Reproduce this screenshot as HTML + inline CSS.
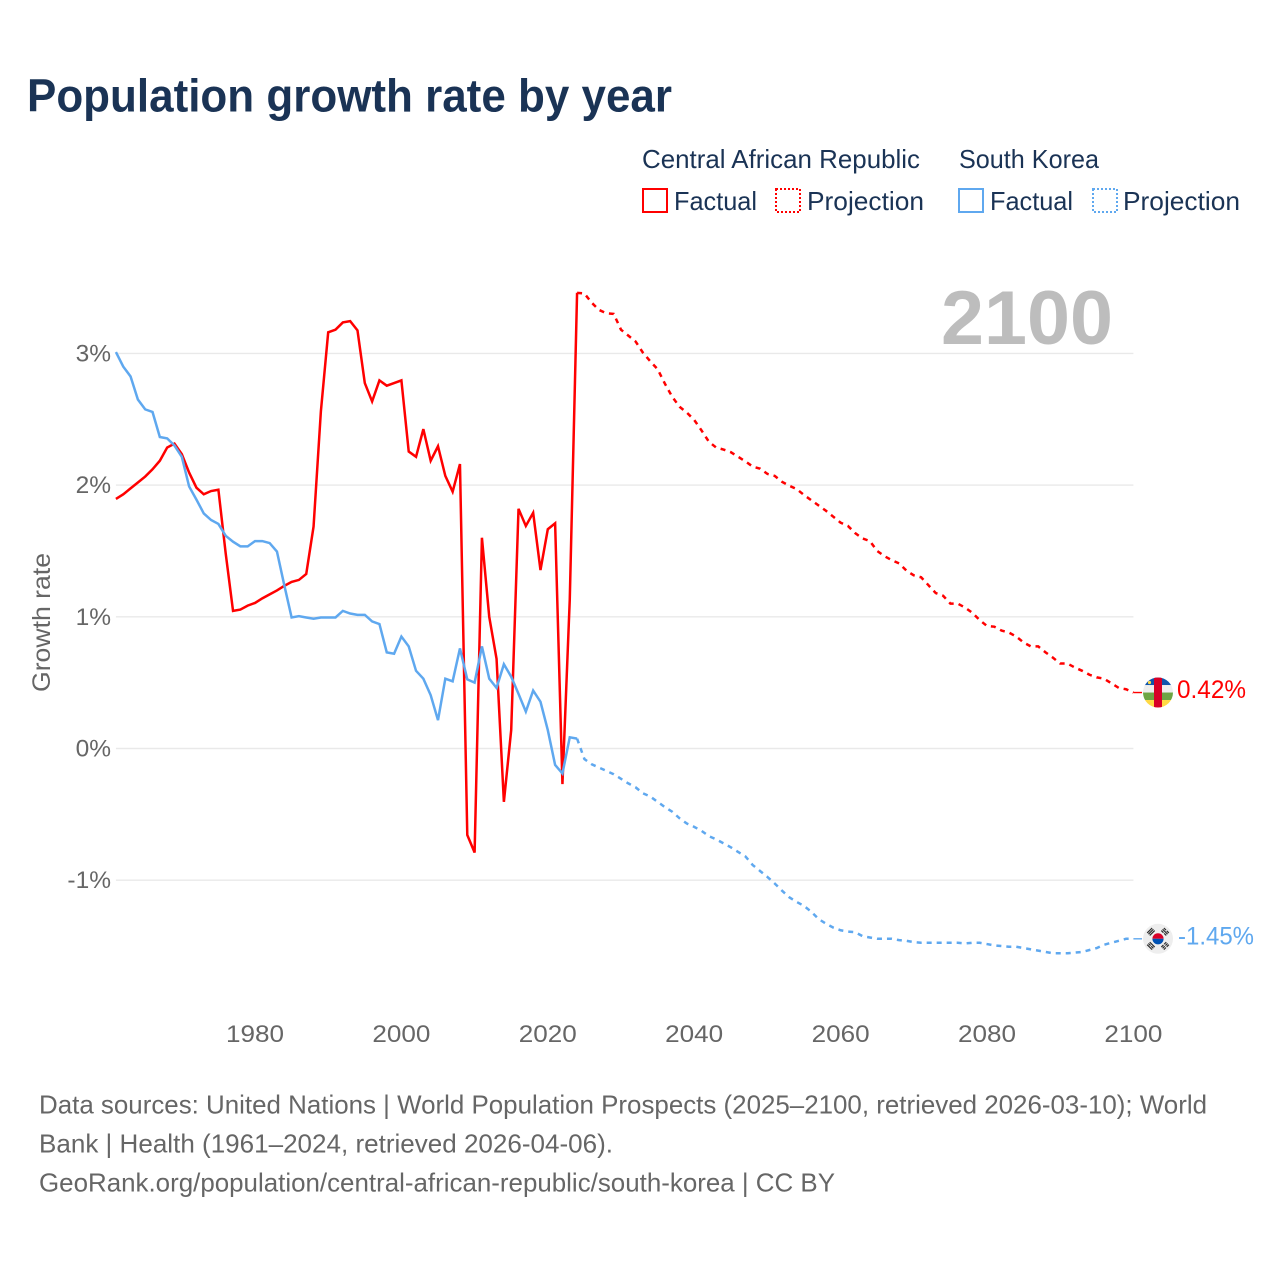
<!DOCTYPE html>
<html lang="en">
<head>
<meta charset="utf-8">
<title>Population growth rate by year</title>
<style>
html,body{margin:0;padding:0;background:#fff;}
svg{display:block;}
text{font-family:"Liberation Sans",sans-serif;}
</style>
</head>
<body>
<svg id="chart" width="1280" height="1280" viewBox="0 0 1280 1280" xmlns="http://www.w3.org/2000/svg">
  <rect x="0" y="0" width="1280" height="1280" fill="#fff"/>
  <text x="27" y="111.5" font-size="46" font-weight="700" fill="#1a3355" textLength="645" lengthAdjust="spacingAndGlyphs">Population growth rate by year</text>

  <g font-size="26" fill="#1a3355">
    <text x="642" y="168" textLength="278" lengthAdjust="spacingAndGlyphs">Central African Republic</text>
    <text x="959" y="168" textLength="140" lengthAdjust="spacingAndGlyphs">South Korea</text>
    <rect x="643" y="189" width="24" height="23" fill="none" stroke="#ff0000" stroke-width="2"/>
    <text x="674" y="210" textLength="83" lengthAdjust="spacingAndGlyphs">Factual</text>
    <rect x="776" y="189" width="24" height="23" fill="none" stroke="#ff0000" stroke-width="2" stroke-dasharray="2 2"/>
    <text x="807" y="210" textLength="117" lengthAdjust="spacingAndGlyphs">Projection</text>
    <rect x="959" y="189" width="24" height="23" fill="none" stroke="#5fa8ef" stroke-width="2"/>
    <text x="990" y="210" textLength="83" lengthAdjust="spacingAndGlyphs">Factual</text>
    <rect x="1093" y="189" width="24" height="23" fill="none" stroke="#5fa8ef" stroke-width="2" stroke-dasharray="2 2"/>
    <text x="1123" y="210" textLength="117" lengthAdjust="spacingAndGlyphs">Projection</text>
  </g>

  <text x="941" y="344" font-size="76" font-weight="700" fill="#bdbdbd" textLength="172" lengthAdjust="spacingAndGlyphs">2100</text>

  <g id="grid"></g>
  <g id="yticks" font-size="24.5" fill="#666"></g>
  <g id="xticks" font-size="24.5" fill="#666"></g>
  <text transform="translate(50,692) rotate(-90)" font-size="25" fill="#666" textLength="139" lengthAdjust="spacingAndGlyphs">Growth rate</text>

  <g id="series"></g>

  <g id="flag-car">
    <clipPath id="clip-car"><circle cx="0" cy="0" r="15"/></clipPath>
    <g clip-path="url(#clip-car)">
      <rect x="-15" y="-15" width="30" height="8" fill="#0f55ad"/>
      <rect x="-15" y="-7.5" width="30" height="7.5" fill="#eeeeee"/>
      <rect x="-15" y="0" width="30" height="7.5" fill="#6da544"/>
      <rect x="-15" y="7.5" width="30" height="8" fill="#ffda44"/>
      <rect x="-4" y="-15" width="8" height="30" fill="#d80027"/>
      <circle cx="-8.5" cy="-10" r="1.6" fill="#ffda44"/>
    </g>
  </g>
  <g id="flag-kr">
    <circle cx="0" cy="0" r="15" fill="#eeeeee"/>
    <path d="M-5.6 0a5.6 5.6 0 0 1 11.2 0z" fill="#d80027"/>
    <path d="M-5.6 0a5.6 5.6 0 0 0 11.2 0z" fill="#0052b4"/>
    <g fill="#2b2b2b">
      <g transform="rotate(-45) translate(0,-10)"><rect x="-3.5" y="-2.4" width="7" height="1.2"/><rect x="-3.5" y="-0.6" width="7" height="1.2"/><rect x="-3.5" y="1.2" width="7" height="1.2"/></g>
      <g transform="rotate(45) translate(0,-10)"><rect x="-3.5" y="-2.4" width="3" height="1.2"/><rect x="0.5" y="-2.4" width="3" height="1.2"/><rect x="-3.5" y="-0.6" width="7" height="1.2"/><rect x="-3.5" y="1.2" width="3" height="1.2"/><rect x="0.5" y="1.2" width="3" height="1.2"/></g>
      <g transform="rotate(135) translate(0,-10)"><rect x="-3.5" y="-2.4" width="3" height="1.2"/><rect x="0.5" y="-2.4" width="3" height="1.2"/><rect x="-3.5" y="-0.6" width="3" height="1.2"/><rect x="0.5" y="-0.6" width="3" height="1.2"/><rect x="-3.5" y="1.2" width="3" height="1.2"/><rect x="0.5" y="1.2" width="3" height="1.2"/></g>
      <g transform="rotate(225) translate(0,-10)"><rect x="-3.5" y="-2.4" width="7" height="1.2"/><rect x="-3.5" y="-0.6" width="3" height="1.2"/><rect x="0.5" y="-0.6" width="3" height="1.2"/><rect x="-3.5" y="1.2" width="7" height="1.2"/></g>
    </g>
  </g>
  <text id="label-car" x="1177" font-size="25" fill="#ff0000" textLength="69" lengthAdjust="spacingAndGlyphs"></text>
  <text id="label-kr" x="1178" font-size="25" fill="#5fa8ef" textLength="76" lengthAdjust="spacingAndGlyphs"></text>

  <g font-size="26" fill="#666">
    <text x="39" y="1113.5" textLength="1168" lengthAdjust="spacingAndGlyphs">Data sources: United Nations | World Population Prospects (2025–2100, retrieved 2026-03-10); World</text>
    <text x="39" y="1152.5" textLength="574" lengthAdjust="spacingAndGlyphs">Bank | Health (1961–2024, retrieved 2026-04-06).</text>
    <text x="39" y="1191.5" textLength="796" lengthAdjust="spacingAndGlyphs">GeoRank.org/population/central-african-republic/south-korea | CC BY</text>
  </g>
</svg>
<script>
var yTickValues = [3, 2, 1, 0, -1];
var yTickLabels = ["3%", "2%", "1%", "0%", "-1%"];
var xTickYears = [1980, 2000, 2020, 2040, 2060, 2080, 2100];
var xTickLabels = ["1980", "2000", "2020", "2040", "2060", "2080", "2100"];
var factualStartYear = 1961;
var projectionStartYear = 2024;
var endValueLabels = ["0.42%", "-1.45%"];

var carFactual = [
  1.895,1.93,1.975,2.02,2.065,2.12,2.185,2.285,2.315,2.235,
  2.095,1.98,1.93,1.955,1.965,1.48,1.045,1.055,1.085,1.105,
  1.14,1.17,1.2,1.235,1.265,1.28,1.325,1.685,2.56,3.16,
  3.18,3.235,3.245,3.175,2.775,2.635,2.795,2.755,2.775,2.795,
  2.255,2.215,2.425,2.185,2.295,2.07,1.95,2.16,-0.657,-0.79,
  1.6,1.0,0.68,-0.405,0.14,1.82,1.69,1.79,1.355,1.665,
  1.71,-0.27,1.13,3.46
];
var carProjection = [
  3.46,3.455,3.385,3.33,3.305,3.3,3.18,3.135,3.09,3.005,
  2.94,2.88,2.77,2.67,2.595,2.55,2.495,2.415,2.33,2.285,
  2.27,2.25,2.215,2.18,2.14,2.125,2.085,2.07,2.025,1.995,
  1.97,1.925,1.885,1.845,1.805,1.76,1.715,1.69,1.635,1.595,
  1.575,1.5,1.46,1.43,1.405,1.35,1.315,1.3,1.24,1.18,
  1.16,1.1,1.1,1.07,1.03,0.975,0.93,0.925,0.895,0.88,
  0.85,0.805,0.775,0.775,0.73,0.69,0.645,0.645,0.615,0.59,
  0.56,0.54,0.53,0.495,0.46,0.45,0.425
];
var koreaFactual = [
  3.01,2.9,2.825,2.65,2.575,2.555,2.365,2.355,2.3,2.215,
  1.99,1.89,1.785,1.735,1.705,1.615,1.57,1.535,1.535,1.575,
  1.575,1.56,1.495,1.24,0.995,1.005,0.995,0.985,0.995,0.995,
  0.995,1.045,1.025,1.015,1.015,0.965,0.945,0.73,0.72,0.85,
  0.775,0.59,0.53,0.405,0.215,0.53,0.51,0.76,0.525,0.5,
  0.775,0.53,0.46,0.64,0.545,0.415,0.28,0.44,0.355,0.14,
  -0.125,-0.19,0.085,0.075
];
var koreaProjection = [
  0.075,-0.08,-0.12,-0.145,-0.17,-0.195,-0.23,-0.265,-0.295,-0.34,
  -0.365,-0.405,-0.445,-0.48,-0.53,-0.57,-0.595,-0.625,-0.665,-0.69,
  -0.72,-0.75,-0.785,-0.82,-0.885,-0.93,-0.975,-1.025,-1.08,-1.13,
  -1.165,-1.195,-1.24,-1.295,-1.33,-1.36,-1.38,-1.39,-1.395,-1.425,
  -1.435,-1.445,-1.445,-1.445,-1.455,-1.46,-1.47,-1.475,-1.475,-1.475,
  -1.475,-1.475,-1.475,-1.48,-1.475,-1.475,-1.485,-1.495,-1.5,-1.505,
  -1.505,-1.515,-1.525,-1.535,-1.545,-1.555,-1.555,-1.555,-1.55,-1.545,
  -1.53,-1.515,-1.49,-1.475,-1.46,-1.445,-1.445
];

var NS = "http://www.w3.org/2000/svg";
var RED = "#ff0000";
var BLUE = "#5fa8ef";
function xScale(year) { return 255 + (year - 1980) * 7.32; }
function yScale(value) { return 748.5 - value * 131.7; }
function pathFrom(values, startYear) {
  var d = "";
  for (var i = 0; i < values.length; i++) {
    d += (i ? "L" : "M") + xScale(startYear + i).toFixed(2) + " " + yScale(values[i]).toFixed(2);
  }
  return d;
}
function addSeries(values, startYear, color, dashed, name) {
  var p = document.createElementNS(NS, "path");
  p.setAttribute("d", pathFrom(values, startYear));
  p.setAttribute("fill", "none");
  p.setAttribute("stroke", color);
  p.setAttribute("stroke-width", "2.5");
  p.setAttribute("stroke-linejoin", "miter");
  p.setAttribute("stroke-miterlimit", "4");
  if (dashed) p.setAttribute("stroke-dasharray", "5 5");
  
  
  document.getElementById("series").appendChild(p);
}

var gridGroup = document.getElementById("grid");
var yTickGroup = document.getElementById("yticks");
yTickValues.forEach(function (v, i) {
  var l = document.createElementNS(NS, "line");
  l.setAttribute("x1", xScale(factualStartYear));
  l.setAttribute("x2", xScale(2100));
  l.setAttribute("y1", yScale(v));
  l.setAttribute("y2", yScale(v));
  l.setAttribute("stroke", "#e9e9e9");
  l.setAttribute("stroke-width", "1.4");
  
  
  gridGroup.appendChild(l);
  var t = document.createElementNS(NS, "text");
  t.setAttribute("x", "111");
  t.setAttribute("y", yScale(v) + 8);
  t.setAttribute("text-anchor", "end");
  t.textContent = yTickLabels[i];
  
  
  yTickGroup.appendChild(t);
});

var xTickGroup = document.getElementById("xticks");
xTickYears.forEach(function (y, i) {
  var t = document.createElementNS(NS, "text");
  t.setAttribute("x", xScale(y));
  t.setAttribute("y", "1042");
  t.setAttribute("text-anchor", "middle");
  t.setAttribute("textLength", "58");
  t.setAttribute("lengthAdjust", "spacingAndGlyphs");
  t.textContent = xTickLabels[i];
  
  
  xTickGroup.appendChild(t);
});

addSeries(carFactual, factualStartYear, RED, false, "line-car-factual");
addSeries(carProjection, projectionStartYear, RED, true, "line-car-projection");
addSeries(koreaFactual, factualStartYear, BLUE, false, "line-korea-factual");
addSeries(koreaProjection, projectionStartYear, BLUE, true, "line-korea-projection");

function addEnd(values, color, flagId, labelId, labelText, name) {
  var yEnd = yScale(values[values.length - 1]);
  var c = document.createElementNS(NS, "line");
  c.setAttribute("x1", xScale(2100));
  c.setAttribute("x2", "1142");
  c.setAttribute("y1", yEnd);
  c.setAttribute("y2", yEnd);
  c.setAttribute("stroke", color);
  c.setAttribute("stroke-width", "1.4");
  
  
  document.getElementById("series").appendChild(c);
  document.getElementById(flagId).setAttribute("transform", "translate(1158," + yEnd + ")");
  var lab = document.getElementById(labelId);
  lab.setAttribute("y", yEnd + 5.5);
  lab.textContent = labelText;
}
addEnd(carProjection, RED, "flag-car", "label-car", endValueLabels[0], "connector-car");
addEnd(koreaProjection, BLUE, "flag-kr", "label-kr", endValueLabels[1], "connector-korea");
</script>
</body>
</html>
